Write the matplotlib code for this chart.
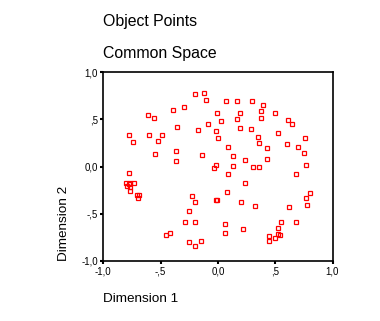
import matplotlib
matplotlib.use("Agg")
import matplotlib.pyplot as plt

# object point coordinates (Dimension 1, Dimension 2)
dim1 = [-0.20, -0.12, -0.10, -0.61, -0.56, -0.39, -0.30, -0.01, 0.03, -0.09,
        -0.36, -0.17, -0.02, 0.00, -0.78, -0.74, -0.60, -0.49, -0.52, -0.55,
        -0.37, -0.37, -0.14, -0.02, -0.03, 0.07, 0.17, 0.30, 0.39, 0.19,
        0.38, 0.50, 0.17, 0.38, 0.61, 0.65, 0.19, 0.29, 0.52, 0.35,
        0.76, 0.36, 0.60, 0.09, 0.43, 0.70, 0.75, 0.13, 0.24, 0.43,
        0.13, 0.31, 0.36, 0.77, -0.78, -0.80, -0.78, -0.77, -0.79, -0.77,
        -0.73, -0.77, -0.71, -0.69, -0.70, -0.23, -0.20, -0.02, -0.01, -0.25,
        -0.29, -0.20, -0.42, -0.45, -0.25, -0.15, -0.20, 0.09, 0.68, 0.24,
        0.08, 0.80, 0.20, 0.77, 0.78, 0.32, 0.62, 0.55, 0.68, 0.06,
        0.06, 0.22, 0.52, 0.45, 0.50, 0.52, 0.54, 0.45]
dim2 = [0.77, 0.78, 0.71, 0.55, 0.52, 0.60, 0.63, 0.57, 0.48, 0.45,
        0.42, 0.39, 0.38, 0.30, 0.34, 0.26, 0.34, 0.33, 0.27, 0.13,
        0.16, 0.06, 0.12, 0.02, -0.02, 0.70, 0.70, 0.70, 0.65, 0.57,
        0.59, 0.57, 0.50, 0.52, 0.49, 0.45, 0.41, 0.40, 0.36, 0.31,
        0.30, 0.25, 0.24, 0.21, 0.20, 0.21, 0.14, 0.11, 0.07, 0.08,
        0.01, 0.00, 0.00, 0.02, -0.07, -0.17, -0.18, -0.17, -0.21, -0.22,
        -0.17, -0.26, -0.30, -0.30, -0.33, -0.31, -0.38, -0.35, -0.35, -0.47,
        -0.59, -0.59, -0.70, -0.73, -0.80, -0.79, -0.84, -0.08, -0.08, -0.17,
        -0.27, -0.28, -0.37, -0.33, -0.41, -0.42, -0.43, -0.59, -0.59, -0.61,
        -0.70, -0.66, -0.65, -0.74, -0.76, -0.71, -0.73, -0.79]

ticks = [-1.0, -0.5, 0.0, 0.5, 1.0]
x_tick_labels = ["-1,0", "-,5", "0,0", ",5", "1,0"]
y_tick_labels = ["-1,0", "-,5", "0,0", ",5", "1,0"]

plt.rcParams['font.family'] = ['Liberation Sans', 'DejaVu Sans']

fig = plt.figure(figsize=(3.8, 3.21), dpi=100)
ax = fig.add_axes([0.272, 0.187, 0.603, 0.588])

ax.plot(dim1, dim2, linestyle='none', marker='s', markersize=3.1,
        markerfacecolor='none', markeredgecolor='#ff0000', markeredgewidth=0.9)

ax.set_xlim(-1, 1)
ax.set_ylim(-1, 1)
ax.set_xticks(ticks)
ax.set_xticklabels(x_tick_labels)
ax.set_yticks(ticks)
ax.set_yticklabels(y_tick_labels)
ax.tick_params(direction='out', length=2, width=1.5, labelsize=7, pad=2)
for s in ax.spines.values():
    s.set_linewidth(1.2)

# titles and axis labels, SPSS style, left aligned
fig.text(103 / 380, 1 - 26 / 321, "Object Points", fontsize=11.4, ha='left', va='baseline')
fig.text(103 / 380, 1 - 58 / 321, "Common Space", fontsize=11.4, ha='left', va='baseline')
fig.text(103 / 380, 1 - 302 / 321, "Dimension 1", fontsize=9.7, ha='left', va='baseline')
fig.text(64 / 380, 1 - 261 / 321, "Dimension 2", fontsize=9.7, rotation=90,
         ha='center', va='bottom')

fig.savefig("out.png", dpi=100)
